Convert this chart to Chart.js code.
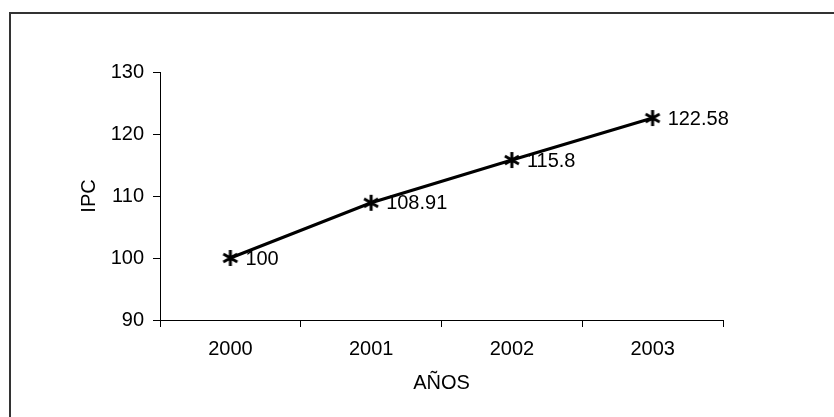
<!DOCTYPE html>
<html lang="es">
<head>
    <meta charset="UTF-8">
    <title>IPC por años</title>
    <script src="https://cdn.jsdelivr.net/npm/chart.js"></script>
    <style>
        body {
            margin: 0;
            background: #fff;
        }
        .wrap {
            position: relative;
            width: 834px;
            height: 417px;
        }
        /* only the top and left edges of the frame are visible */
        .frame {
            position: absolute;
            left: 9px;
            top: 12px;
            right: 0;
            bottom: 0;
            border-left: 2px solid #333;
            border-top: 2px solid #333;
            pointer-events: none;
        }
        canvas {
            position: absolute;
            left: 0;
            top: 0;
        }
    </style>
</head>
<body>
<div class="wrap">
    <div class="frame"></div>
    <canvas id="ipcChart" width="834" height="417"></canvas>
</div>
<script>
    // data
    const years = ['2000', '2001', '2002', '2003'];
    const ipc = [100, 108.91, 115.8, 122.58];
    const yMin = 90;
    const yMax = 130;
    const yStep = 10;
    const xTitle = 'AÑOS';
    const yTitle = 'IPC';

    const FONT = 'Liberation Sans, Arial, sans-serif';
    const FONT_SIZE = 20;

    // asterisk marker
    function makeStar() {
        const c = document.createElement('canvas');
        c.width = 18;
        c.height = 18;
        const g = c.getContext('2d');
        g.strokeStyle = '#000';
        g.lineWidth = 3;
        g.beginPath();
        g.moveTo(9, 1); g.lineTo(9, 17);
        g.moveTo(2, 5); g.lineTo(16, 13);
        g.moveTo(2, 13); g.lineTo(16, 5);
        g.stroke();
        return c;
    }

    const labelsPlugin = {
        id: 'pointLabels',
        afterDatasetsDraw(chart) {
            const ctx = chart.ctx;
            const meta = chart.getDatasetMeta(0);
            ctx.save();
            ctx.fillStyle = '#000';
            ctx.font = FONT_SIZE + 'px ' + FONT;
            ctx.textAlign = 'left';
            ctx.textBaseline = 'middle';
            meta.data.forEach((pt, i) => {
                ctx.fillText(String(ipc[i]), pt.x + 15, pt.y + 1);
            });
            ctx.restore();
        }
    };

    const titlesPlugin = {
        id: 'axisTitles',
        afterDraw(chart) {
            const ctx = chart.ctx;
            const area = chart.chartArea;
            ctx.save();
            ctx.fillStyle = '#000';
            ctx.font = FONT_SIZE + 'px ' + FONT;
            ctx.textAlign = 'center';
            ctx.textBaseline = 'middle';
            ctx.fillText(xTitle, (area.left + area.right) / 2, 383);
            ctx.translate(89, (area.top + area.bottom) / 2);
            ctx.rotate(-Math.PI / 2);
            ctx.fillText(yTitle, 0, 0);
            ctx.restore();
        }
    };

    new Chart(document.getElementById('ipcChart'), {
        type: 'line',
        data: {
            labels: years,
            datasets: [{
                data: ipc,
                borderColor: '#000',
                borderWidth: 3,
                tension: 0,
                pointStyle: makeStar(),
                pointRadius: 9
            }]
        },
        options: {
            responsive: false,
            animation: false,
            layout: {
                padding: { left: 0, right: 111, top: 72, bottom: 0 }
            },
            plugins: {
                legend: { display: false },
                tooltip: { enabled: false }
            },
            scales: {
                x: {
                    offset: true,
                    grid: { offset: true, drawOnChartArea: false, tickLength: 7, color: '#000' },
                    border: { color: '#000', width: 1 },
                    ticks: { padding: 10, color: '#000', font: { family: FONT, size: FONT_SIZE } },
                    afterFit(s) { s.height = 97; }
                },
                y: {
                    min: yMin,
                    max: yMax,
                    grid: { drawOnChartArea: false, tickLength: 7, color: '#000' },
                    border: { color: '#000', width: 1 },
                    ticks: { stepSize: yStep, padding: 9, color: '#000', font: { family: FONT, size: FONT_SIZE } },
                    afterFit(s) { s.width = 160; }
                }
            }
        },
        plugins: [labelsPlugin, titlesPlugin]
    });
</script>
</body>
</html>
